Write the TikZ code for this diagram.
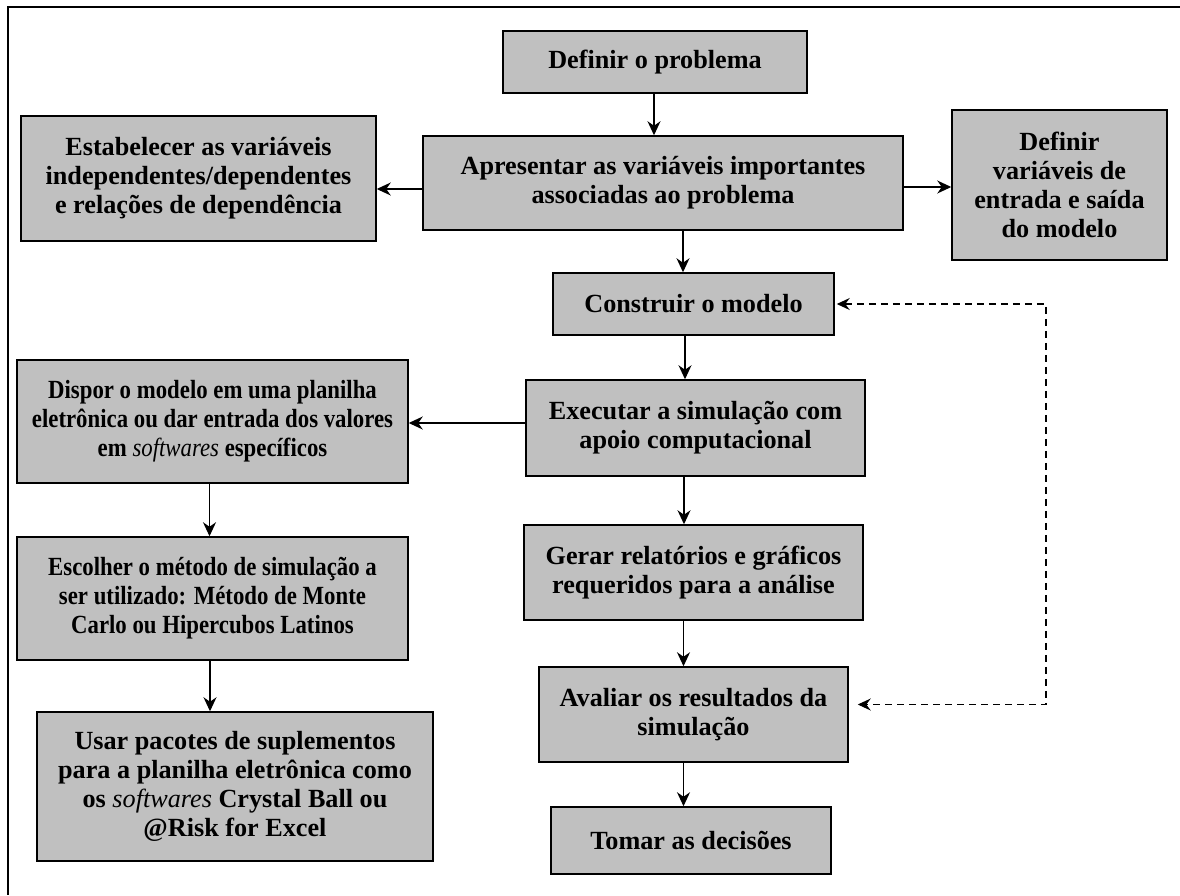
\documentclass[tikz,border=0pt]{standalone}
\usepackage{fontspec}
\setmainfont{Liberation Serif}
\newfontfamily\narrowfont[FakeStretch=0.87]{Liberation Serif}
\usetikzlibrary{arrows.meta}
\definecolor{boxgray}{RGB}{192,192,192}

\begin{document}
\begin{tikzpicture}[x=1pt, y=-1pt,
    box/.style={draw, line width=1.5pt, fill=boxgray, align=center, inner sep=0pt},
    wide/.style={font=\bfseries\fontsize{26.2}{29}\selectfont},
    narrow/.style={font=\narrowfont\bfseries\fontsize{26.2}{29}\selectfont},
    arr/.style={-{Stealth[length=14pt, width=13pt, inset=4.5pt]}, line width=1.3pt},
    back/.style={{Stealth[length=13pt, width=12pt, inset=4.5pt]}-{Stealth[length=13pt, width=12pt, inset=4.5pt]},
                 line width=1.2pt, dash pattern=on 7pt off 5pt}]

   \useasboundingbox (0,0) rectangle (1180,895);
   \draw[line width=1.5pt] (1180,7) -- (8,7) -- (8,895);

   \foreach \n/\x/\y/\w/\h/\k/\t in {
       prob/655/62/304/62/wide/{Definir o problema},
       vars/663/183/480/94/wide/{Apresentar as variáveis importantes\\associadas ao problema},
       deps/198.5/178.5/355/125/wide/{Estabelecer as variáveis\\independentes/dependentes\\e relações de dependência},
       io/1059.5/185/215/150/wide/{Definir\\variáveis de\\entrada e saída\\do modelo},
       model/693.5/304/281/62/wide/{Construir o modelo},
       exec/695.5/428/339/96/wide/{Executar a simulação com\\apoio computacional},
       report/693.5/572.5/339/95/wide/{Gerar relatórios e gráficos\\requeridos para a análise},
       eval/693.5/714.5/309/95/wide/{Avaliar os resultados da\\simulação},
       decide/691/840.5/280/67/wide/{Tomar as decisões},
       sheet/212.5/421.5/391/123/narrow/{Dispor o modelo em uma planilha\\eletrônica ou dar entrada dos valores\\em {\mdseries\itshape softwares} específicos},
       method/212.5/598.5/391/123/narrow/{Escolher o método de simulação a\\ser utilizado: Método de Monte\\Carlo ou Hipercubos Latinos},
       addin/235/786.5/396/149/wide/{Usar pacotes de suplementos\\para a planilha eletrônica como\\os {\mdseries\itshape softwares} Crystal Ball ou\\@Risk for Excel}}
     \node [box, \k, minimum width=\w*1pt, minimum height=\h*1pt]
        (\n) at (\x,\y) {\t};

    \foreach \i/\j/\s in {prob/vars/-1, vars/model/20, model/exec/-8.5, exec/report/-11.5,
                          report/eval/-10, eval/decide/-10, sheet/method/-3, method/addin/-2.5}
        \draw[arr] ([xshift=\s]\i.south) -- ([xshift=\s]\i.south |- \j.north);

    \draw[arr] ([yshift=-6]vars.west) -- ([yshift=-6]vars.west -| deps.east);
    \draw[arr] ([yshift=-4]vars.east) -- ([yshift=-4]vars.east -| io.west);
    \draw[arr] ([yshift=5]exec.west) -- ([yshift=5]exec.west -| sheet.east);

    % volta tracejada
    \coordinate (r1) at (1046,304);
    \coordinate (r2) at (1046,704.5);
    \draw[back, shorten <=2pt, shorten >=9pt] (model.east) -- (r1) -- (r2) -- (r2 -| eval.east);

\end{tikzpicture}
\end{document}
